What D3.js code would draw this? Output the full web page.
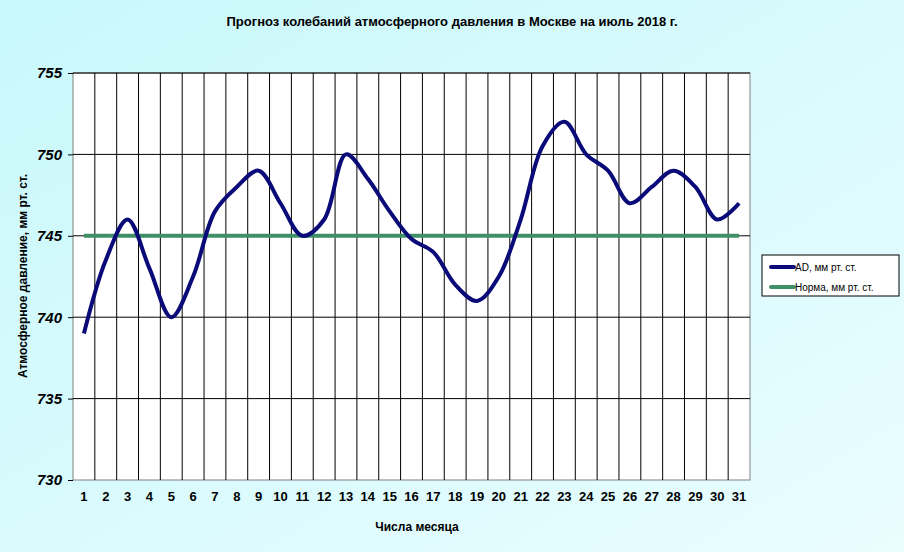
<!DOCTYPE html>
<html>
<head>
<meta charset="utf-8">
<script src="https://d3js.org/d3.v7.min.js"></script>
<style>
  body { margin: 0; }
  text { font-family: Arial, "Liberation Sans", sans-serif; }
</style>
</head>
<body>
<svg id="chart" width="904" height="552"></svg>
<script>
  var days = d3.range(1, 32).map(String)
  var pressure = [739, 743.5, 746, 743, 740, 742.5, 746.5, 748, 749, 747, 745, 746, 750, 748.5, 746.5, 744.8,
                  744, 742, 741, 742.5, 746, 750.5, 752, 750, 749, 747, 748, 749, 748, 746, 747]
  var norm = days.map(function() { return 745 })
  var yTicks = [730, 735, 740, 745, 750, 755]

  var svg = d3.select("#chart")
  var defs = svg.append("defs")
  var grad = defs.append("linearGradient").attr("id", "bg").attr("x1", 0).attr("y1", 0).attr("x2", 1).attr("y2", 1)
  grad.append("stop").attr("offset", "0%").attr("stop-color", "#c8f8fb")
  grad.append("stop").attr("offset", "100%").attr("stop-color", "#eafdff")
  svg.append("rect").attr("width", 904).attr("height", 552).attr("fill", "url(#bg)")

  var pLeft = 73, pRight = 750, pTop = 73, pBottom = 480
  var x = d3.scaleBand().domain(days).range([pLeft, pRight])
  var y = d3.scaleLinear().domain([730, 755]).range([pBottom, pTop])
  var cx = function(d, i) { return x(days[i]) + x.bandwidth() / 2 }

  svg.append("rect").attr("x", pLeft).attr("y", pTop).attr("width", pRight - pLeft).attr("height", pBottom - pTop)
    .attr("fill", "#fff").attr("stroke", "#808080")

  // vertical grid at band boundaries
  svg.append("g").selectAll("line").data(days.slice(1)).join("line")
    .attr("x1", function(d) { return x(d) }).attr("x2", function(d) { return x(d) })
    .attr("y1", pTop).attr("y2", pBottom).attr("stroke", "#000").attr("stroke-width", 1)
  svg.append("g").selectAll("line").data(yTicks.slice(1)).join("line")
    .attr("x1", pLeft).attr("x2", pRight).attr("y1", y).attr("y2", y).attr("stroke", "#000")

  var yAxis = svg.append("g").attr("transform", "translate(" + pLeft + ",0)")
    .call(d3.axisLeft(y).tickValues(yTicks).tickSize(5).tickPadding(6))
  yAxis.selectAll("text").attr("font-size", 15).attr("font-weight", "bold").attr("font-style", "italic").attr("fill", "#000")
  yAxis.select(".domain").remove()
  yAxis.selectAll("line").attr("stroke", "#000")

  var xAxis = svg.append("g").attr("transform", "translate(0," + pBottom + ")")
    .call(d3.axisBottom(x).tickSize(0).tickPadding(12))
  xAxis.selectAll("text").attr("font-size", 13).attr("font-weight", "bold").attr("fill", "#000")
  xAxis.select(".domain").remove()

  var line = d3.line().x(cx).y(function(d) { return y(d) })
  svg.append("path").attr("d", line(norm)).attr("fill", "none").attr("stroke", "#3f8f67").attr("stroke-width", 4)
  svg.append("path").attr("d", line.curve(d3.curveCatmullRom.alpha(0.5))(pressure))
    .attr("fill", "none").attr("stroke", "#0a0a78").attr("stroke-width", 4).attr("stroke-linejoin", "round")

  svg.append("text").attr("x", 452).attr("y", 26).attr("text-anchor", "middle")
    .attr("font-size", 13).attr("font-weight", "bold").text("Прогноз колебаний атмосферного давления в Москве на июль 2018 г.")
  svg.append("text").attr("x", 417).attr("y", 531).attr("text-anchor", "middle")
    .attr("font-size", 12).attr("font-weight", "bold").text("Числа месяца")
  svg.append("text").attr("transform", "translate(27,276) rotate(-90)").attr("text-anchor", "middle")
    .attr("font-size", 12).attr("font-weight", "bold").text("Атмосферное  давление, мм рт. ст.")

  // legend
  var lg = svg.append("g").attr("transform", "translate(762,255)")
  lg.append("rect").attr("width", 137).attr("height", 41).attr("fill", "#fff").attr("stroke", "#000")
  var items = [["AD, мм рт. ст.", "#0a0a78"], ["Норма, мм рт. ст.", "#3f8f67"]]
  items.forEach(function(it, i) {
    var yy = 12 + i * 20
    lg.append("line").attr("x1", 9).attr("x2", 32).attr("y1", yy).attr("y2", yy)
      .attr("stroke", it[1]).attr("stroke-width", 4).attr("stroke-linecap", "round")
    lg.append("text").attr("x", 33).attr("y", yy + 4).attr("font-size", 10).text(it[0])
  })
</script>
</body>
</html>
